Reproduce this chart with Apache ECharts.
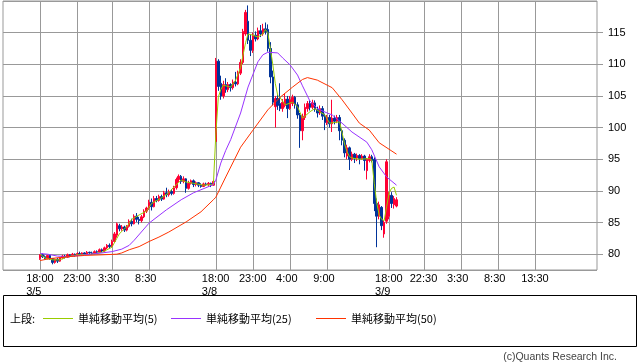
<!DOCTYPE html>
<html><head><meta charset="utf-8">
<script src="https://cdn.jsdelivr.net/npm/echarts@6/dist/echarts.min.js"></script>
<style>html,body{margin:0;padding:0;background:#fff}#c{width:638px;height:362px}</style>
</head><body><div id="c"></div>
<script>
// ---- data ----
const slotCount = 241; // 20-minute slots on the category axis
const tickSlots = [15, 30, 44, 59, 86, 101, 116, 131, 156, 170, 185, 200, 215];
const tickTimes = ['18:00', '23:00', '3:30', '8:30', '18:00', '23:00', '4:00', '9:00', '18:00', '22:30', '3:30', '8:30', '13:30'];
const tickDates = ['3/5', '', '', '', '3/8', '', '', '', '3/9', '', '', '', ''];
const firstCandleSlot = 15;
// [open, close, low, high]
const candles = [
[79.3,79.9,79.1,80.0],[79.9,79.6,79.4,80.1],[79.6,79.3,79.2,79.8],[79.3,79.8,79.2,79.9],[79.8,79.3,79.1,79.9],
[79.3,78.7,78.4,79.4],[78.7,79.2,78.5,79.3],[79.2,78.9,78.6,79.4],[78.9,79.4,78.8,79.5],[79.4,79.7,79.2,79.9],
[79.7,79.5,79.3,79.9],[79.5,79.9,79.4,80.1],[79.9,79.7,79.5,80.0],[79.7,80.0,79.6,80.2],[80.0,79.8,79.6,80.1],
[79.8,80.1,79.7,80.3],[80.1,79.9,79.8,80.4],[79.9,80.2,79.8,80.3],[80.2,80.0,79.8,80.3],[80.0,80.3,79.9,80.5],
[80.3,80.2,79.9,80.4],[80.2,80.1,79.9,80.4],[80.1,80.4,80.0,80.6],[80.4,80.3,80.1,80.6],[80.3,80.7,80.2,80.9],
[80.7,80.5,80.3,80.9],[80.5,81.0,80.4,81.2],[81.0,81.4,80.8,81.6],[81.4,81.2,80.9,81.7],[81.2,82.0,81.1,82.3],
[82.0,83.2,81.8,83.5],[83.0,84.8,82.6,85.0],[84.5,84.0,83.6,84.8],[84.0,84.3,83.7,84.6],[84.3,83.8,83.5,84.5],
[83.8,84.4,83.6,84.6],[84.4,85.2,84.2,85.5],[85.2,84.8,84.4,85.6],[84.8,86.0,84.7,86.3],[86.0,85.5,85.1,86.5],
[85.5,85.3,84.7,85.9],[85.3,85.9,85.0,86.2],[85.9,86.8,85.7,87.1],[86.8,87.3,86.5,87.5],[87.3,88.2,87.0,88.6],
[88.2,87.5,86.9,88.8],[87.5,88.8,87.4,89.2],[88.8,88.5,88.2,89.2],[88.5,89.1,88.3,89.4],[89.1,88.7,88.4,89.4],
[88.7,89.7,88.6,90.0],[89.7,89.4,89.0,90.5],[89.4,89.9,89.1,90.2],[89.9,89.6,89.3,90.3],[89.6,90.5,89.4,90.8],
[90.5,91.8,90.2,92.1],[91.8,92.3,91.4,92.6],[92.3,91.5,91.1,92.5],[91.5,91.9,91.2,92.3],[91.9,90.4,89.7,92.0],
[90.4,91.2,90.2,91.6],[91.2,91.6,91.0,91.8],[91.6,91.0,90.6,91.8],[91.0,91.3,90.7,91.5],[91.3,90.9,90.6,91.4],
[90.9,90.7,90.5,91.2],[90.7,91.1,90.6,91.3],[91.1,91.0,90.8,91.3],[91.0,91.2,90.7,91.4],[91.2,90.9,90.6,91.3],
[90.9,91.5,90.8,91.7],
[97.8,110.5,97.7,111.0],[110.5,106.5,105.8,110.8],[107.0,105.0,104.4,108.2],[105.0,106.8,104.6,107.4],[106.8,106.0,105.5,107.8],
[106.0,106.8,105.6,107.2],[106.8,106.3,105.7,107.0],[106.3,107.2,106.0,107.6],[107.2,106.9,106.5,108.8],[106.9,108.6,106.7,109.0],
[108.6,110.3,108.3,110.8],[110.3,115.2,110.0,115.6],[114.8,118.2,114.5,118.6],[116.8,113.8,113.2,119.3],[113.8,112.2,111.3,114.8],
[112.2,114.6,111.8,115.0],[114.6,114.0,113.6,115.2],[114.0,115.3,113.8,115.8],[115.3,114.8,114.3,116.2],[114.8,115.6,114.5,116.4],
[115.6,115.1,114.7,116.6],[115.5,112.5,112.0,116.3],[112.5,108.0,107.0,113.5],[108.0,104.0,103.5,109.0],[103.3,104.6,100.0,105.0],
[104.6,103.5,102.8,105.2],[103.8,103.0,102.6,107.0],[103.0,104.0,102.5,104.5],[103.5,104.5,103.2,105.4],[104.5,103.0,101.5,105.0],
[103.0,104.4,102.8,105.0],[103.8,104.8,103.4,105.2],[104.8,103.6,103.0,105.0],[103.6,102.0,101.4,104.0],[102.0,99.5,96.8,102.3],
[99.5,101.8,98.0,102.2],[101.6,103.2,101.2,103.8],[103.0,103.8,102.5,104.2],[103.8,103.2,102.7,104.3],[103.2,103.9,102.9,104.4],
[103.9,102.9,102.5,104.3],[102.9,102.3,101.6,103.3],[102.3,103.0,102.0,103.5],[103.0,101.8,101.2,103.4],[101.8,100.8,99.6,102.2],
[100.8,101.6,100.4,102.0],[101.6,100.6,100.0,102.0],[100.6,101.5,99.3,104.4],[101.5,101.0,100.5,101.9],[101.0,101.6,100.7,102.0],
[101.6,99.5,98.0,102.0],[99.5,98.0,97.2,99.8],[98.0,96.0,95.3,98.3],[95.5,96.8,95.0,97.3],[96.8,95.0,93.3,97.0],
[95.0,95.8,94.7,96.2],[95.8,95.2,94.4,96.0],[95.2,95.6,94.7,95.9],[95.6,95.1,94.2,95.8],[95.1,95.5,94.9,95.8],
[95.5,94.8,93.2,95.7],[93.2,95.0,91.8,95.2],[94.8,95.4,94.5,95.8],[95.4,94.8,94.5,95.7],[95.0,88.0,86.8,95.3],
[88.0,86.0,81.1,88.8],[86.0,87.8,85.5,88.3],[87.4,84.5,83.8,87.6],[83.2,85.0,82.6,85.3],[85.2,94.6,84.8,95.0],
[86.0,89.3,85.5,89.8],[89.3,88.0,87.3,89.8],[87.8,88.8,87.2,89.2],[87.6,88.6,87.4,89.0]
];
// moving averages: [slot, value]
const ma5 = [[15,80.0],[17,79.4],[20,79.1],[23,79.1],[26,79.6],[30,79.9],[36,80.0],[40,80.3],[44,81.1],[46,82.5],[47,83.2],[49,84.0],[50,84.3],[52,85.5],[55,86.2],[58,86.8],[60,88.0],[64,88.9],[67,89.7],[69,90.6],[72,91.7],[74,91.4],[77,91.2],[81,90.9],[85,91.0],[86,99.0],[87,104.8],[88,106.0],[89,106.7],[91,106.5],[92,106.4],[94,107.5],[95,108.5],[96,109.5],[97,111.5],[98,113.4],[99,114.8],[101,114.6],[103,114.3],[105,114.8],[106,115.5],[107,115.0],[108,112.5],[109,110.0],[110,107.0],[111,105.1],[112,104.7],[114,103.6],[117,104.0],[119,103.3],[121,101.5],[122,101.8],[124,102.5],[126,103.0],[128,102.5],[130,102.0],[132,100.7],[134,100.8],[136,100.9],[137,99.2],[138,97.4],[139,96.2],[140,95.4],[141,95.2],[144,95.0],[148,95.1],[149,94.9],[150,91.2],[151,88.1],[152,86.2],[153,85.5],[154,85.3],[155,87.5],[156,89.7],[157,90.4],[158,90.6],[159,89.3]];
const ma25 = [[15,80.1],[18,80.0],[22,79.7],[26,79.6],[33,79.9],[40,80.2],[44,80.4],[48,80.8],[51,81.4],[53,82.2],[59,84.9],[66,87.0],[72,88.6],[77,89.7],[82,90.5],[85,91.0],[86,91.7],[88,94.4],[90,96.4],[92,98.1],[96,102.3],[99,106.4],[103,110.4],[105,111.5],[107,111.9],[111,111.8],[113,111.0],[116,109.9],[119,108.3],[121,106.6],[124,104.2],[127,103.0],[131,102.3],[133,102.0],[137,100.7],[141,99.3],[147,97.7],[149,96.5],[152,93.8],[155,92.2],[159,90.9]];
const ma50 = [[15,79.0],[19,79.3],[26,79.6],[33,79.8],[40,79.9],[46,80.0],[48,80.2],[51,80.7],[55,81.2],[59,82.0],[63,82.7],[67,83.5],[74,85.1],[80,86.7],[85,88.6],[86,89.0],[88,90.6],[90,92.2],[96,96.9],[101,99.6],[107,102.8],[112,104.8],[117,106.4],[121,107.6],[123,107.9],[127,107.5],[131,106.7],[133,106.3],[137,104.4],[141,102.3],[144,100.7],[148,99.6],[152,97.6],[159,95.8]];
const seriesNames = ['単純移動平均(5)', '単純移動平均(25)', '単純移動平均(50)'];
const legendTitle = '上段:';
const credit = '(c)Quants Research Inc.';

// ---- chart ----
const categories = Array.from({length: slotCount}, (_, i) => 's' + i);
const candleData = candles.map((c, i) => [firstCandleSlot + i, c[0], c[1], c[2], c[3]]);
const isTick = (i) => tickSlots.indexOf(i) >= 0;
const colors = {up: '#ff0033', down: '#003399', ma5: '#99cc00', ma25: '#9933ff', ma50: '#ff3300', grid: '#999999'};
const font = 'Liberation Sans, Arial, sans-serif';
const cjk = 'Noto Sans CJK JP, sans-serif';

const chart = echarts.init(document.getElementById('c'), null, {renderer: 'canvas'});
const legendX = [43, 171, 316];
const legendCols = [colors.ma5, colors.ma25, colors.ma50];
const graphics = [
  {type: 'rect', shape: {x: 3.5, y: 295.5, width: 633, height: 51}, style: {fill: 'none', stroke: '#000', lineWidth: 1}, silent: true},
  {type: 'text', x: 10, y: 319, style: {text: legendTitle, font: '11px ' + cjk, fill: '#000', verticalAlign: 'middle'}},
  {type: 'text', x: 617, y: 357, style: {text: credit, font: '10.5px ' + font, fill: '#444', align: 'right', verticalAlign: 'middle'}}
];
seriesNames.forEach((n, k) => {
  graphics.push({type: 'line', shape: {x1: legendX[k], y1: 318.5, x2: legendX[k] + 30, y2: 318.5}, style: {stroke: legendCols[k], lineWidth: 1}});
  graphics.push({type: 'text', x: legendX[k] + 35, y: 319, style: {text: n, font: '11px ' + cjk, fill: '#000', verticalAlign: 'middle'}});
});

chart.setOption({
  animation: false,
  backgroundColor: '#fff',
  grid: {left: 3, right: 41, top: 1, bottom: 92, show: true, borderColor: colors.grid, borderWidth: 1, backgroundColor: 'transparent'},
  xAxis: {
    type: 'category', data: categories, boundaryGap: false,
    axisLine: {show: false}, axisTick: {show: false},
    splitLine: {show: true, interval: (i) => isTick(i), lineStyle: {color: colors.grid, width: 1}},
    axisLabel: {
      interval: (i) => isTick(i), margin: 2, hideOverlap: false,
      formatter: (v, i) => {
        const k = tickSlots.indexOf(i);
        if (k < 0) return '';
        return tickDates[k] ? '{t|' + tickTimes[k] + '}\n{t|' + tickDates[k] + '}' : '{t|' + tickTimes[k] + '}';
      },
      rich: {t: {width: 28, align: 'left', fontSize: 11, lineHeight: 13, fontFamily: font, color: '#000'}}
    }
  },
  yAxis: {
    type: 'value', position: 'right', min: 77.5, max: 120, minInterval: 5, maxInterval: 5, splitNumber: 8, scale: true,
    axisLine: {show: false},
    axisTick: {show: true, length: 6, lineStyle: {color: colors.grid}},
    splitLine: {show: true, lineStyle: {color: colors.grid, width: 1}},
    axisLabel: {margin: 11, fontSize: 11, fontFamily: font, color: '#000', showMinLabel: false, showMaxLabel: false}
  },
  series: [
    {type: 'candlestick', data: candleData, encode: {x: 0, y: [1, 2, 3, 4]}, barWidth: 2,
     itemStyle: {color: colors.up, color0: colors.down, borderColor: colors.up, borderColor0: colors.down, borderWidth: 1}},
    {type: 'line', name: seriesNames[0], data: ma5, symbol: 'none', lineStyle: {color: colors.ma5, width: 1}},
    {type: 'line', name: seriesNames[1], data: ma25, symbol: 'none', lineStyle: {color: colors.ma25, width: 1}},
    {type: 'line', name: seriesNames[2], data: ma50, symbol: 'none', lineStyle: {color: colors.ma50, width: 1}}
  ],
  graphic: graphics
});
</script>
</body></html>
